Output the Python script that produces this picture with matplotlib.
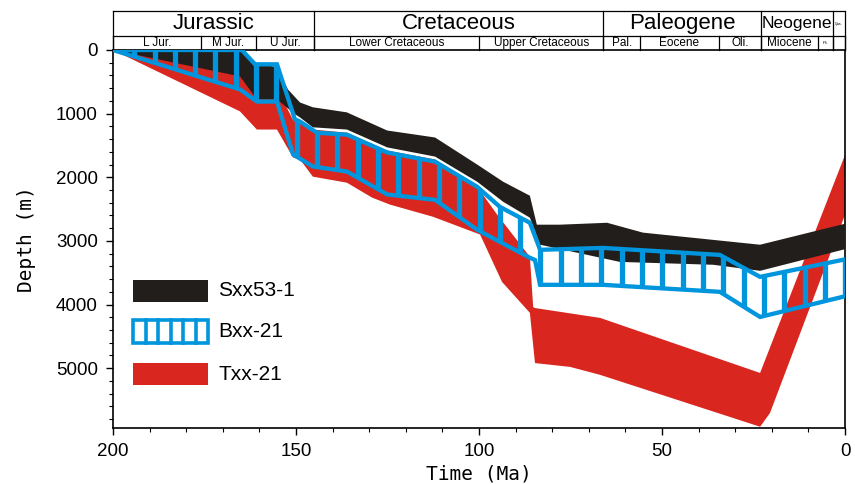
import numpy as np
import matplotlib
matplotlib.use("Agg")
import matplotlib.pyplot as plt
from matplotlib.patches import Polygon, Rectangle

# ---- burial history bands: (age Ma, depth m) ----
# Sxx53-1 (black)
sxx_top_age = [200, 164.8, 160.7, 155.2, 152.2, 148.9, 145.4, 136.1, 125.1, 112.0, 100.5, 93.4, 86.1, 84.2, 77.9, 65.0, 55.2, 23.2, 0]
sxx_top_dep = [0, 0, 210, 270, 620, 825, 900, 980, 1265, 1375, 1800, 2070, 2290, 2745, 2745, 2715, 2870, 3060, 2730]
sxx_bot_age = [200, 165.3, 160.7, 155.2, 150.5, 148.9, 145.4, 136.1, 125.1, 112.0, 100.5, 93.4, 86.1, 83.3, 61.5, 36.0, 23.2, 0]
sxx_bot_dep = [0, 415, 775, 775, 1000, 1060, 1215, 1250, 1530, 1675, 2070, 2385, 2635, 3060, 3330, 3375, 3470, 3130]

# Bxx-21 (blue, striped)
bxx_top_age = [200, 164.8, 161.2, 155.2, 150.3, 148.9, 144.3, 136.1, 125.1, 112.0, 100.5, 94.3, 86.1, 83.3, 66.1, 34.2, 23.2, 0]
bxx_top_dep = [0, 0, 225, 225, 1090, 1125, 1300, 1330, 1610, 1755, 2150, 2465, 2715, 3140, 3110, 3220, 3565, 3290]
bxx_bot_age = [200, 165.3, 160.7, 155.2, 150.8, 145.4, 136.1, 125.1, 112.0, 100.5, 86.1, 84.7, 83.3, 66.1, 34.2, 23.2, 0]
bxx_bot_dep = [0, 620, 810, 810, 1640, 1830, 1910, 2270, 2355, 2825, 3265, 3300, 3690, 3690, 3800, 4195, 3870]

# Txx-21 (red)
txx_top_age = [200, 165.0, 160.7, 155.2, 150.8, 148.9, 145.4, 136.1, 125.1, 112.0, 100.5, 95.0, 86.1, 85.2, 84.7, 66.9, 23.2, 0]
txx_top_dep = [0, 350, 600, 600, 1100, 1150, 1250, 1300, 1580, 1720, 2150, 2590, 3250, 4040, 4055, 4210, 5075, 1650]
txx_bot_age = [200, 165.3, 160.7, 155.2, 150.8, 148.9, 145.4, 136.1, 129.2, 124.3, 112.6, 99.7, 93.7, 86.1, 84.7, 75.1, 66.9, 23.2, 20.5, 0]
txx_bot_dep = [0, 965, 1250, 1250, 1690, 1720, 1990, 2085, 2320, 2430, 2620, 2900, 3645, 4130, 4920, 4980, 5105, 5920, 5705, 2590]

# ---- stratigraphic header ----
period_names = ["Jurassic", "Cretaceous", "Paleogene", "Neogene", "Qua."]
period_edges = [200, 145, 66, 23, 3.3, 0]
epoch_names = ["L Jur.", "M Jur.", "U Jur.", "Lower Cretaceous", "Upper Cretaceous",
               "Pal.", "Eocene", "Oli.", "Miocene", "Pli.", ""]
epoch_edges = [200, 176, 161, 145, 100, 66, 56, 34.5, 23, 7.4, 3.3, 0]

legend_names = ["Sxx53-1", "Bxx-21", "Txx-21"]

BLACK = "#221e1b"
BLUE = "#0095dc"
RED = "#d9261e"


def band(top_age, top_dep, bot_age, bot_dep):
    top = np.column_stack([top_age, top_dep])
    bot = np.column_stack([bot_age, bot_dep])[::-1]
    return np.vstack([top, bot])


fig = plt.figure(figsize=(8.55, 4.84), dpi=100)
ax = fig.add_axes([113 / 855, 1 - 428 / 484, 732 / 855, 378 / 484])

ax.add_patch(Polygon(band(txx_top_age, txx_top_dep, txx_bot_age, txx_bot_dep),
                     closed=True, facecolor=RED, edgecolor="none", zorder=2))
ax.add_patch(Polygon(band(sxx_top_age, sxx_top_dep, sxx_bot_age, sxx_bot_dep),
                     closed=True, facecolor=BLACK, edgecolor="none", zorder=3))
ax.add_patch(Polygon(band(bxx_top_age, bxx_top_dep, bxx_bot_age, bxx_bot_dep),
                     closed=True, facecolor="none", edgecolor=BLUE, lw=3.1,
                     joinstyle="miter", zorder=5))

# vertical stripes inside the blue band
ta = np.array(bxx_top_age)[::-1]
td = np.array(bxx_top_dep)[::-1]
ba = np.array(bxx_bot_age)[::-1]
bd = np.array(bxx_bot_dep)[::-1]
for a in np.arange(194.2, 2, -5.55):
    ax.plot([a, a], [np.interp(a, ta, td), np.interp(a, ba, bd)],
            color=BLUE, lw=3.8, solid_capstyle="butt", zorder=5)

ax.set_xlim(200, 0)
ax.set_ylim(5940, 0)
ax.set_xticks([200, 150, 100, 50, 0])
ax.set_xticks(np.arange(0, 201, 10), minor=True)
ax.set_yticks([0, 1000, 2000, 3000, 4000, 5000])
ax.set_yticks(np.arange(0, 5901, 200), minor=True)
ax.tick_params(which="major", length=5, width=1, labelsize=13.5, pad=6)
ax.tick_params(which="minor", length=3, width=0.8)
for lab in ax.get_xticklabels() + ax.get_yticklabels():
    lab.set_fontfamily(["Liberation Sans Narrow", "Liberation Sans", "DejaVu Sans"])
for sp in ax.spines.values():
    sp.set_linewidth(1.2)

ax.set_xlabel("Time (Ma)", fontsize=14, family="DejaVu Sans Mono", labelpad=3)
ax.set_ylabel("Depth (m)", fontsize=14, family="DejaVu Sans Mono", labelpad=14)

# header boxes
tr = ax.get_xaxis_transform()
y_mid = 1 + 14 / 378
y_top = 1 + 39 / 378
hkw = dict(color="black", lw=0.9, transform=tr, clip_on=False)
ax.plot([200, 0], [y_top, y_top], **hkw)
ax.plot([200, 0], [y_mid, y_mid], **hkw)
for e in period_edges:
    ax.plot([e, e], [1, y_top], **hkw)
for e in epoch_edges:
    ax.plot([e, e], [1, y_mid], **hkw)

psizes = [16, 16, 16, 12.5, 2.5]
for name, a0, a1, fs in zip(period_names, period_edges[:-1], period_edges[1:], psizes):
    ax.text((a0 + a1) / 2, (y_mid + y_top) / 2, name, transform=tr, ha="center",
            va="center", fontsize=fs, family="Liberation Sans")
esizes = [8.5, 8.5, 8.5, 8.5, 8.5, 8.5, 8.5, 8.5, 8.5, 3, 3]
for name, a0, a1, fs in zip(epoch_names, epoch_edges[:-1], epoch_edges[1:], esizes):
    ax.text((a0 + a1) / 2, (1 + y_mid) / 2, name, transform=tr, ha="center",
            va="center", fontsize=fs, family="Liberation Sans")

# legend
lx, lw_ = 20 / 732, 75 / 732
rows = [(280, 302), (320, 343), (363, 385)]
for i, (name, (y0, y1)) in enumerate(zip(legend_names, rows)):
    yb = (428 - y1) / 378
    h = (y1 - y0) / 378
    if i == 0:
        ax.add_patch(Rectangle((lx, yb), lw_, h, transform=ax.transAxes,
                               facecolor=BLACK, edgecolor="none", zorder=6))
    elif i == 1:
        ax.add_patch(Rectangle((lx, yb), lw_, h, transform=ax.transAxes,
                               facecolor="white", edgecolor=BLUE, lw=2.6, zorder=6))
        for k in range(1, 6):
            xs = lx + lw_ * k / 6
            ax.plot([xs, xs], [yb, yb + h], transform=ax.transAxes,
                    color=BLUE, lw=2.6, zorder=6)
    else:
        ax.add_patch(Rectangle((lx, yb), lw_, h, transform=ax.transAxes,
                               facecolor=RED, edgecolor="none", zorder=6))
    ax.text(105 / 732, yb + h / 2, name, transform=ax.transAxes, fontsize=15,
            va="center", ha="left", family="Liberation Sans", zorder=6)

fig.savefig("out.png", dpi=100)
